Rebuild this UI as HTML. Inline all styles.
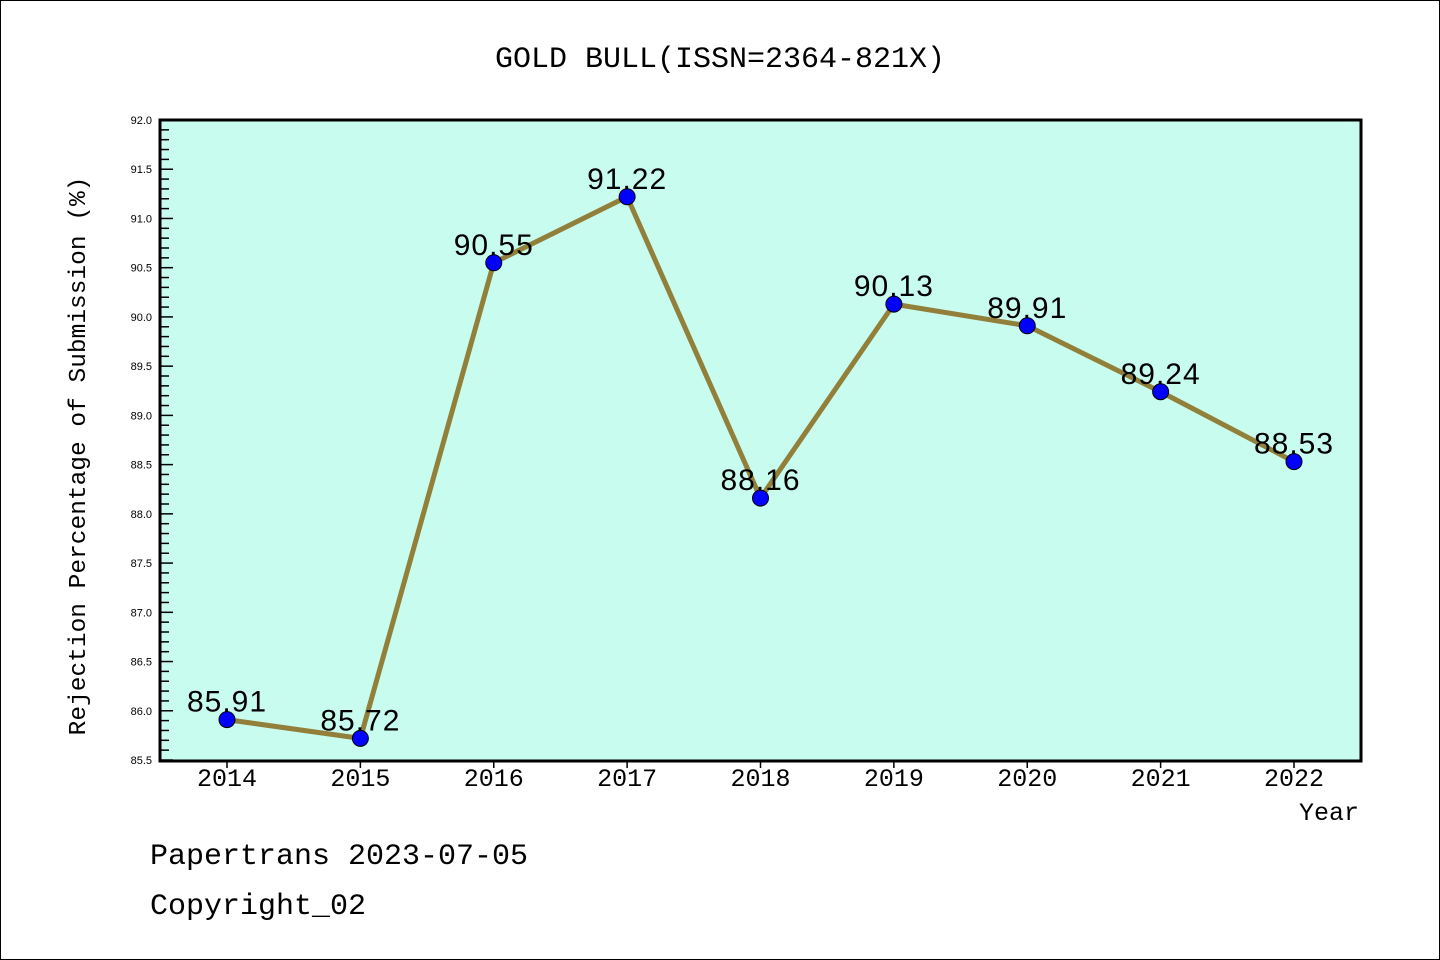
<!DOCTYPE html>
<html><head><meta charset="utf-8"><style>
body{margin:0;background:#fff}
svg{display:block;font-family:"Liberation Mono","DejaVu Sans Mono",monospace}
</style></head><body>
<svg id="c" width="1440" height="960" xmlns="http://www.w3.org/2000/svg">
<rect x="0.5" y="0.5" width="1439" height="959" fill="#fff" stroke="#000"/>
<text x="720" y="67" font-size="30" text-anchor="middle">GOLD BULL(ISSN=2364-821X)</text>
<rect x="160" y="120" width="1201" height="641" fill="#c8fcee"/>
<g id="ticks"></g>
<g id="series"></g>
<rect x="160" y="120" width="1201" height="641" fill="none" stroke="#000" stroke-width="3"/>
<text transform="translate(85,456) rotate(-90)" font-size="24.5" text-anchor="middle">Rejection Percentage of Submission (%)</text>
<text x="1359" y="820" font-size="25" text-anchor="end">Year</text>
<text x="150" y="864" font-size="30">Papertrans 2023-07-05</text>
<text x="150" y="914" font-size="30">Copyright_02</text>
</svg>
<script>
const years=["2014","2015","2016","2017","2018","2019","2020","2021","2022"];
const values=[85.91,85.72,90.55,91.22,88.16,90.13,89.91,89.24,88.53];
const labels=["85.91","85.72","90.55","91.22","88.16","90.13","89.91","89.24","88.53"];
const yMin=85.5,yMax=92.0;
const NS="http://www.w3.org/2000/svg";
const X=i=>227+i*(1294-227)/(years.length-1);
const Y=v=>760-(v-yMin)/(yMax-yMin)*640;
function mk(t,a,p){const e=document.createElementNS(NS,t);for(const k in a)e.setAttribute(k,a[k]);p.appendChild(e);return e;}
const tg=document.getElementById('ticks'),sg=document.getElementById('series');
for(let k=0;k<=65;k++){const v=yMin+k*0.1,y=Y(v),maj=k%5===0;
 const l=mk('line',{x1:160,x2:160+(maj?13:9),y1:y,y2:y,stroke:'#000','stroke-width':1.5},tg);
 
 if(maj){const t=mk('text',{x:152,y:y+4,'font-size':11,'text-anchor':'end',fill:'#000',style:'font-family:"Liberation Sans",sans-serif'},tg);t.textContent=v.toFixed(1);
 }}
years.forEach((yr,i)=>{const x=X(i);
 const l=mk('line',{x1:x,x2:x,y1:761,y2:768,stroke:'#000','stroke-width':1.5},tg);
 
 const t=mk('text',{x:x,y:786,'font-size':25,'text-anchor':'middle'},tg);t.textContent=yr;
 });
const pl=mk('polyline',{points:values.map((v,i)=>X(i)+','+Y(v)).join(' '),fill:'none',stroke:'#917f3a','stroke-width':5,'stroke-linejoin':'round'},sg);

values.forEach((v,i)=>{
 const c=mk('circle',{cx:X(i),cy:Y(v),r:8,fill:'#0000ff',stroke:'#000','stroke-width':1},sg);
 
 const t=mk('text',{x:X(i),y:Y(v)-8,'font-size':30,'text-anchor':'middle','letter-spacing':'1'},sg);
 t.setAttribute('style','font-family:"Liberation Sans",sans-serif');t.textContent=labels[i];
 });
</script>
</body></html>
